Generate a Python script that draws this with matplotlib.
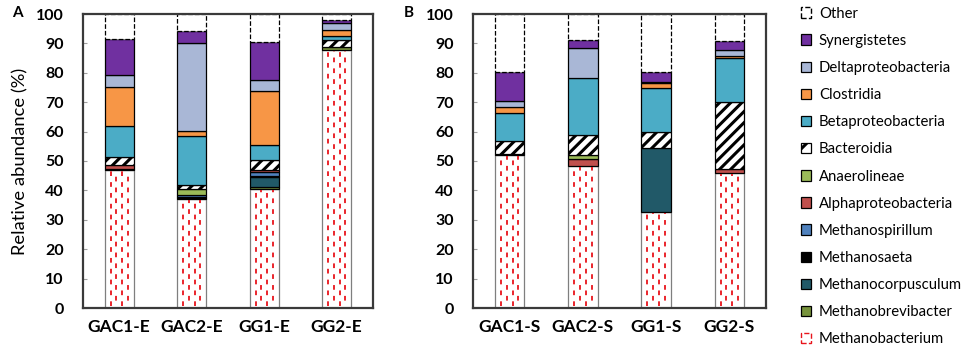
import matplotlib
matplotlib.use("Agg")
import matplotlib.pyplot as plt
import numpy as np
from matplotlib.patches import Patch

plt.rcParams['font.family'] = ['Lato', 'DejaVu Sans']
plt.rcParams['hatch.linewidth'] = 2.2

# taxa, bottom of the stack first
taxa = ['Methanobacterium', 'Methanobrevibacter', 'Methanocorpusculum', 'Methanosaeta',
        'Methanospirillum', 'Alphaproteobacteria', 'Anaerolineae', 'Bacteroidia',
        'Betaproteobacteria', 'Clostridia', 'Deltaproteobacteria', 'Synergistetes', 'Other']

samples_a = ['GAC1-E', 'GAC2-E', 'GG1-E', 'GG2-E']
samples_b = ['GAC1-S', 'GAC2-S', 'GG1-S', 'GG2-S']

# relative abundance (%) per sample, in the order of taxa
gac1_e = [47.0, 0.0, 0.0, 0.3, 0.0, 1.5, 0.0, 2.6, 10.4, 13.5, 3.8, 12.5, 8.4]
gac2_e = [37.2, 0.0, 0.0, 0.4, 0.8, 0.0, 2.0, 1.5, 16.6, 1.7, 30.0, 3.9, 5.9]
gg1_e = [40.5, 0.7, 3.3, 0.5, 1.2, 0.6, 0.0, 3.4, 5.1, 18.5, 3.6, 13.0, 9.6]
gg2_e = [87.8, 1.0, 0.0, 0.0, 0.0, 0.0, 0.0, 2.4, 1.4, 2.0, 2.3, 0.9, 2.2]

gac1_s = [52.0, 0.0, 0.0, 0.0, 0.0, 0.4, 0.0, 4.4, 9.5, 2.1, 1.9, 9.9, 19.8]
gac2_s = [48.2, 0.0, 0.0, 0.0, 0.0, 2.5, 1.5, 6.6, 19.5, 0.0, 10.3, 2.4, 9.0]
gg1_s = [32.7, 0.0, 21.7, 0.0, 0.0, 0.0, 0.0, 5.3, 15.3, 1.5, 0.5, 3.2, 19.8]
gg2_s = [46.0, 0.0, 0.0, 0.0, 0.0, 1.4, 0.0, 22.8, 14.7, 0.9, 2.0, 2.9, 9.3]

colors = ['white', '#77933C', '#215968', 'black', '#4F81BD', '#C0504D', '#9BBB59',
          'white', '#4BACC6', '#F79646', '#A9B7D6', '#7030A0', 'white']


def draw_panel(ax, names, table):
    data = np.array(table)
    x = np.arange(len(names))
    w = 0.4
    bottom = np.zeros(len(names))
    for i, taxon in enumerate(taxa):
        vals = data[:, i]
        keep = vals > 0
        hatch = '///' if taxon == 'Bacteroidia' else None
        ls = '--' if taxon == 'Other' else '-'
        ec = '#7f7f7f' if taxon == 'Methanobacterium' else 'black'
        ax.bar(x[keep], vals[keep], w, bottom=bottom[keep], color=colors[i],
               edgecolor=ec, linewidth=0.9, hatch=hatch, linestyle=ls, zorder=2)
        if taxon == 'Methanobacterium':
            # red dashed fill pattern
            for k, off in enumerate([-0.3, -0.1, 0.1, 0.3]):
                ax.vlines(x + off * w, 0.6, vals - 0.4, colors='#E8141B',
                          linewidth=1.3, linestyles=[(3 * (k % 2), (2.6, 3.4))], zorder=3)
        bottom += vals

    ax.set_xlim(-0.5, len(names) - 0.5)
    ax.set_ylim(0, 100)
    ax.set_yticks(np.arange(0, 101, 10))
    ax.set_xticks(x)
    ax.set_xticklabels(names, fontsize=12.5, fontweight='bold')
    ax.tick_params(axis='x', length=0, pad=8)
    ax.tick_params(axis='y', direction='in', length=3, color='#a0a0a0',
                   labelsize=11.5, pad=14)
    for lab in ax.get_yticklabels():
        lab.set_fontweight('bold')
    for sp in ax.spines.values():
        sp.set_linewidth(1.6)
        sp.set_color('#3a3a3a')
        sp.set_zorder(4)


fig = plt.figure(figsize=(9.64, 3.46), dpi=100)
ax_a = fig.add_axes([83 / 964, 38 / 346, 290 / 964, 294 / 346])
ax_b = fig.add_axes([473 / 964, 38 / 346, 293 / 964, 294 / 346])

draw_panel(ax_a, samples_a, [gac1_e, gac2_e, gg1_e, gg2_e])
draw_panel(ax_b, samples_b, [gac1_s, gac2_s, gg1_s, gg2_s])

ax_a.set_ylabel('Relative abundance (%)', fontsize=13.2, labelpad=5)

fig.text(12 / 964, 1 - 13 / 346, 'A', fontsize=11, fontweight='bold', ha='left', va='center')
fig.text(404 / 964, 1 - 13 / 346, 'B', fontsize=11, fontweight='bold', ha='left', va='center')

handles = []
for i, taxon in enumerate(taxa):
    if taxon == 'Methanobacterium':
        h = Patch(facecolor='white', edgecolor='#E8141B', linestyle='--', linewidth=1.0, label=taxon)
    elif taxon == 'Other':
        h = Patch(facecolor='white', edgecolor='black', linestyle='--', linewidth=1.0, label=taxon)
    elif taxon == 'Bacteroidia':
        h = Patch(facecolor='white', edgecolor='black', hatch='//', linewidth=0.9, label=taxon)
    else:
        h = Patch(facecolor=colors[i], edgecolor='black', linewidth=0.9, label=taxon)
    handles.append(h)

fig.legend(handles=handles[::-1], loc='upper left', bbox_to_anchor=(795 / 964, 0.998),
           frameon=False, fontsize=10.7, labelspacing=0.885, handlelength=0.7,
           handleheight=0.7, handletextpad=0.5, borderaxespad=0)

fig.savefig('out.png', dpi=100)
